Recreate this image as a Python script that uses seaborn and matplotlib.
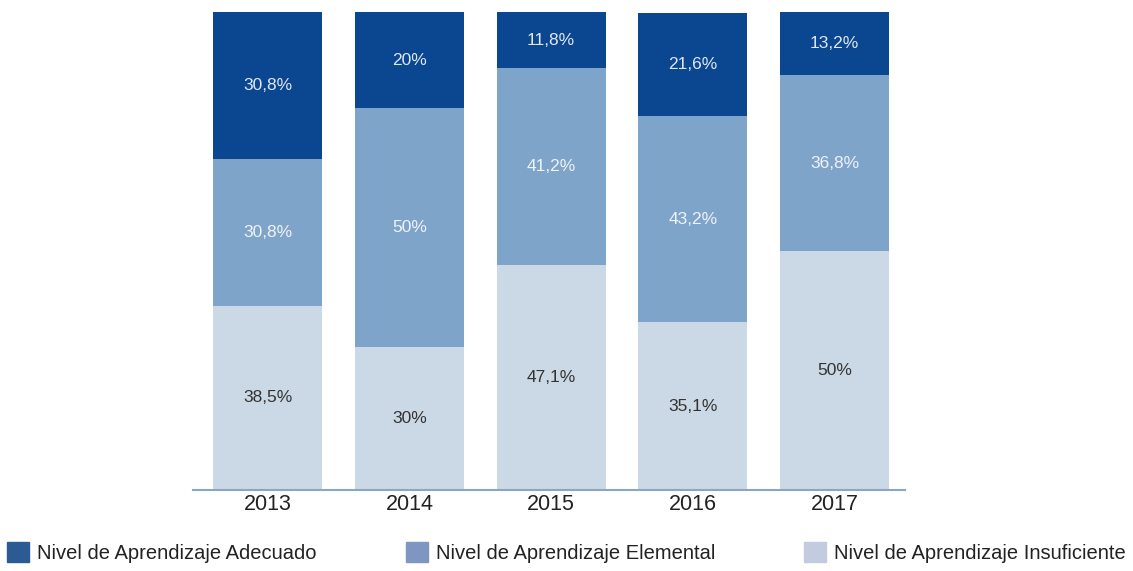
import matplotlib
matplotlib.use("Agg")
import matplotlib.pyplot as plt
import matplotlib.patches as mpatches
import seaborn as sns
import pandas as pd

years = ["2013", "2014", "2015", "2016", "2017"]
adecuado = [30.8, 20.0, 11.8, 21.6, 13.2]
elemental = [30.8, 50.0, 41.2, 43.2, 36.8]
insuficiente = [38.5, 30.0, 47.1, 35.1, 50.0]

adecuado_lbl = ["30,8%", "20%", "11,8%", "21,6%", "13,2%"]
elemental_lbl = ["30,8%", "50%", "41,2%", "43,2%", "36,8%"]
insuficiente_lbl = ["38,5%", "30%", "47,1%", "35,1%", "50%"]

c_dark = "#0b4690"
c_mid = "#7fa4c9"
c_light = "#cbd9e6"

sns.set_style("white")
plt.rcParams["font.family"] = ["Liberation Sans", "DejaVu Sans"]

df = pd.DataFrame({"year": years, "adecuado": adecuado,
                   "elemental": elemental, "insuficiente": insuficiente})
df["top"] = df["insuficiente"] + df["elemental"] + df["adecuado"]
df["mid"] = df["insuficiente"] + df["elemental"]

fig = plt.figure(figsize=(11.33, 5.71), dpi=100)
ax = fig.add_axes([0.170, 0.142, 0.629, 0.838])

# barras sobrepostas para simular o empilhamento
for col, cor in [("top", c_dark), ("mid", c_mid), ("insuficiente", c_light)]:
    sns.barplot(data=df, x="year", y=col, color=cor, width=0.77,
                saturation=1, linewidth=0, ax=ax)

for i in range(len(years)):
    ins = insuficiente[i]
    ele = elemental[i]
    ade = adecuado[i]
    ax.text(i, ins / 2, insuficiente_lbl[i], ha="center", va="center",
            color="#333333", fontsize=12.5)
    ax.text(i, ins + ele / 2, elemental_lbl[i], ha="center", va="center",
            color="#eef3f8", fontsize=12.5)
    ax.text(i, ins + ele + ade / 2, adecuado_lbl[i], ha="center", va="center",
            color="#dfe8f2", fontsize=12.5)

ax.set_xlim(-0.53, 4.5)
ax.set_ylim(0, 100.2)
ax.set_xlabel("")
ax.set_ylabel("")
ax.set_yticks([])
ax.tick_params(axis="x", length=0, labelsize=15.5, pad=3, labelcolor="#222222")
for s in ["top", "right", "left"]:
    ax.spines[s].set_visible(False)
ax.spines["bottom"].set_color("#8aa6c4")
ax.spines["bottom"].set_linewidth(1.5)

handles = [
    mpatches.Patch(color="#2b5b92", label="Nivel de Aprendizaje Adecuado"),
    mpatches.Patch(color="#8096c2", label="Nivel de Aprendizaje Elemental"),
    mpatches.Patch(color="#c3cbe0", label="Nivel de Aprendizaje Insuficiente"),
]
fig.legend(handles=handles, loc="center", bbox_to_anchor=(0.5, 0.032), ncol=3,
           frameon=False, handlelength=1.1, handleheight=1.1, handletextpad=0.4,
           columnspacing=4.4, prop={"size": 14.5}, labelcolor="#222222")

plt.savefig("out.png", dpi=100)
